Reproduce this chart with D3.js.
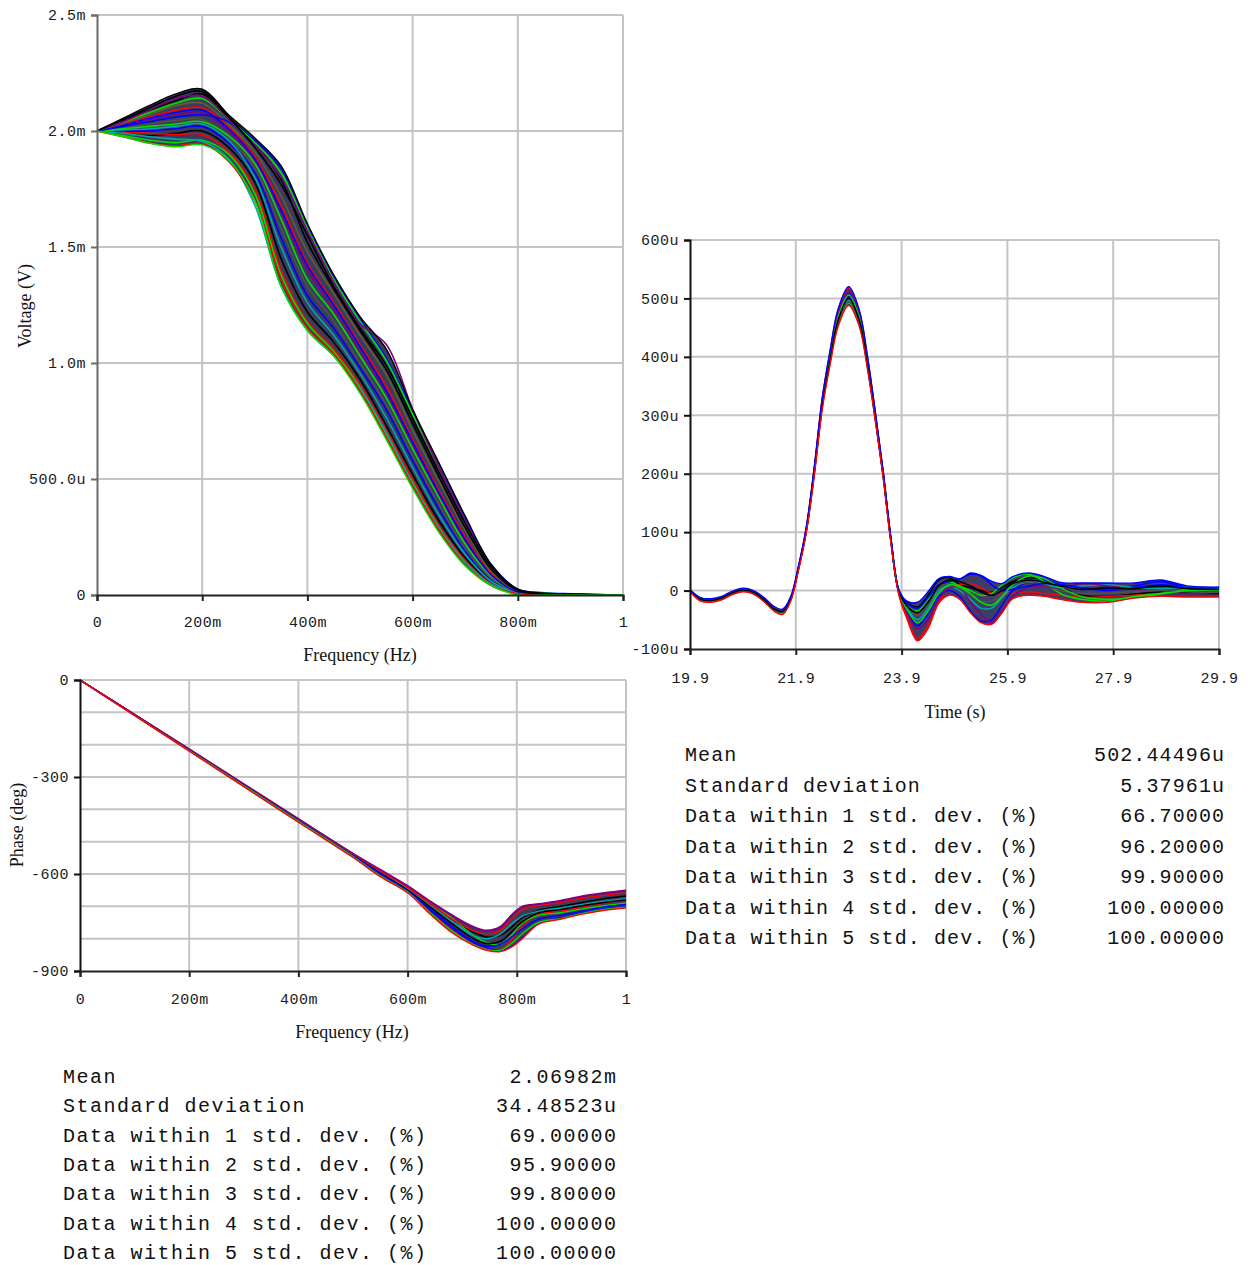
<!DOCTYPE html>
<html>
<head>
<meta charset="utf-8">
<script src="https://cdn.jsdelivr.net/npm/d3@7"></script>
<style>
  html, body { margin: 0; padding: 0; background: #fff; }
  svg { display: block; }
  .tick text { font-family: "Liberation Mono", "DejaVu Sans Mono", monospace; font-size: 15px; letter-spacing: 0.5px; fill: #1a1a1a; }
  .title { font-family: "Liberation Serif", "DejaVu Serif", serif; font-size: 18px; fill: #111; }
  .stat { font-family: "Liberation Mono", "DejaVu Sans Mono", monospace; font-size: 20px; fill: #111; }
</style>
</head>
<body>
<svg id="chart" width="1252" height="1265"></svg>
<script>
// ---------------- DATA ----------------
const freqTicks = [0, 0.2, 0.4, 0.6, 0.8, 1];
const freqLabels = ["0", "200m", "400m", "600m", "800m", "1"];

// Magnitude (mV) vs frequency
const magYTicks = [0, 0.5, 1.0, 1.5, 2.0, 2.5];
const magYLabels = ["0", "500.0u", "1.0m", "1.5m", "2.0m", "2.5m"];
const magFreq = [0, 0.05, 0.1, 0.15, 0.2, 0.25, 0.3, 0.35, 0.4, 0.45, 0.5, 0.55, 0.6, 0.65, 0.7, 0.75, 0.8, 0.85, 0.9, 0.95, 1.0];
const magUpper = [2.0, 2.055, 2.11, 2.16, 2.18, 2.07, 1.97, 1.85, 1.60, 1.38, 1.20, 1.06, 0.80, 0.57, 0.34, 0.13, 0.025, 0.008, 0.004, 0.002, 0.001];
const magLower = [2.0, 1.975, 1.947, 1.932, 1.94, 1.875, 1.70, 1.33, 1.14, 1.03, 0.87, 0.67, 0.46, 0.27, 0.125, 0.04, 0.0, 0, 0, 0, 0];
const magRun1 = [2.0, 2.05, 2.10, 2.15, 2.17, 2.06, 1.93, 1.77, 1.55, 1.33, 1.15, 0.99, 0.76, 0.53, 0.31, 0.12, 0.02, 0.005, 0.002, 0.001, 0];
const magRun2 = [2.0, 2.04, 2.09, 2.14, 2.15, 2.05, 1.94, 1.80, 1.57, 1.35, 1.17, 1.08, 0.80, 0.55, 0.32, 0.12, 0.02, 0.005, 0.002, 0.001, 0];
const magRun3 = [2.0, 2.02, 2.04, 2.06, 2.07, 2.04, 1.96, 1.84, 1.59, 1.37, 1.19, 1.02, 0.79, 0.56, 0.33, 0.13, 0.025, 0.01, 0.005, 0.002, 0];
const magRun4 = [2.0, 1.975, 1.948, 1.935, 1.945, 1.87, 1.70, 1.36, 1.15, 1.04, 0.88, 0.68, 0.47, 0.28, 0.13, 0.04, 0.005, 0, 0, 0, 0];
const magRun5 = [2.0, 1.99, 1.975, 1.965, 1.955, 1.88, 1.68, 1.33, 1.14, 1.03, 0.89, 0.70, 0.48, 0.29, 0.14, 0.045, 0.006, 0, 0, 0, 0];
const magRun6 = [2.0, 1.99, 1.98, 1.99, 2.0, 1.93, 1.78, 1.45, 1.22, 1.09, 0.93, 0.73, 0.52, 0.32, 0.16, 0.05, 0.008, 0.003, 0.001, 0, 0];
const magRun7 = [2.0, 2.01, 2.02, 2.03, 2.04, 1.98, 1.86, 1.62, 1.36, 1.21, 1.03, 0.85, 0.63, 0.42, 0.22, 0.08, 0.012, 0.006, 0.002, 0, 0];
const magRun8 = [2.0, 2.03, 2.06, 2.09, 2.10, 2.02, 1.89, 1.68, 1.43, 1.26, 1.08, 0.90, 0.67, 0.45, 0.25, 0.09, 0.015, 0.004, 0.001, 0, 0];
const magRun9 = [2.0, 2.0, 2.0, 2.01, 2.02, 1.95, 1.82, 1.54, 1.29, 1.15, 0.98, 0.80, 0.58, 0.37, 0.19, 0.065, 0.01, 0.002, 0, 0, 0];
const magRun10 = [2.0, 2.035, 2.07, 2.11, 2.12, 2.03, 1.91, 1.72, 1.48, 1.30, 1.12, 0.95, 0.71, 0.49, 0.28, 0.10, 0.018, 0.005, 0.002, 0, 0];
const magRun11 = [2.0, 2.04, 2.08, 2.12, 2.14, 2.05, 1.95, 1.82, 1.58, 1.36, 1.18, 1.01, 0.78, 0.55, 0.32, 0.12, 0.022, 0.008, 0.003, 0.001, 0];
const magRun12 = [2.0, 2.02, 2.05, 2.07, 2.08, 2.00, 1.87, 1.65, 1.40, 1.23, 1.05, 0.87, 0.65, 0.43, 0.23, 0.08, 0.012, 0.003, 0.001, 0, 0];
const magRun13 = [2.0, 1.995, 1.99, 1.985, 1.985, 1.91, 1.75, 1.40, 1.18, 1.06, 0.905, 0.71, 0.50, 0.30, 0.15, 0.048, 0.007, 0.002, 0, 0, 0];
const magRun14 = [2.0, 2.005, 2.01, 2.02, 2.03, 1.96, 1.80, 1.50, 1.26, 1.12, 0.955, 0.765, 0.55, 0.345, 0.175, 0.058, 0.009, 0.002, 0, 0, 0];
const magRun15 = [2.0, 2.015, 2.03, 2.045, 2.05, 1.97, 1.84, 1.58, 1.33, 1.18, 1.00, 0.82, 0.60, 0.39, 0.20, 0.07, 0.011, 0.003, 0.001, 0, 0];
const magRun16 = [2.0, 1.98, 1.96, 1.95, 1.96, 1.90, 1.73, 1.38, 1.17, 1.05, 0.895, 0.69, 0.485, 0.29, 0.14, 0.044, 0.006, 0.001, 0, 0, 0];
const magRun17 = [2.0, 2.045, 2.09, 2.13, 2.16, 2.06, 1.95, 1.79, 1.52, 1.32, 1.14, 0.97, 0.74, 0.51, 0.29, 0.11, 0.018, 0.005, 0.002, 0, 0];
const magRun18 = [2.0, 2.025, 2.055, 2.08, 2.09, 2.01, 1.88, 1.66, 1.42, 1.25, 1.07, 0.88, 0.66, 0.44, 0.24, 0.085, 0.013, 0.003, 0.001, 0, 0];

// Time response (uV) vs time
const timeTicks = [19.9, 21.9, 23.9, 25.9, 27.9, 29.9];
const timeLabels = ["19.9", "21.9", "23.9", "25.9", "27.9", "29.9"];
const timeYTicks = [-100, 0, 100, 200, 300, 400, 500, 600];
const timeYLabels = ["-100u", "0", "100u", "200u", "300u", "400u", "500u", "600u"];
const timeT = [19.9, 20.1, 20.3, 20.5, 20.7, 20.9, 21.1, 21.3, 21.5, 21.65, 21.8, 21.95, 22.1, 22.25, 22.4, 22.55, 22.7, 22.9, 23.1, 23.25, 23.4, 23.55, 23.7, 23.85, 24.0, 24.2, 24.4, 24.6, 24.8, 25.0, 25.2, 25.4, 25.6, 25.8, 26.0, 26.3, 26.6, 26.9, 27.3, 27.8, 28.3, 28.8, 29.3, 29.9];
const timeUpper = [2, -12, -14, -10, -1, 4, 0, -12, -28, -32, -11, 42, 110, 212, 330, 412, 482, 520, 480, 404, 308, 206, 90, 2, -18, -20, -2, 20, 24, 20, 30, 26, 16, 12, 24, 30, 24, 14, 13, 13, 13, 18, 8, 6];
const timeLower = [-2, -18, -20, -16, -7, -2, -6, -19, -36, -41, -19, 34, 100, 197, 310, 388, 452, 488, 452, 382, 292, 194, 80, -8, -48, -86, -65, -22, -8, -15, -38, -55, -58, -38, -14, -8, -10, -15, -20, -20, -13, -10, -11, -11];
const timeRunA = [0, -15, -17, -13, -4, 1, -3, -16, -32, -36, -15, 38, 105, 205, 320, 398, 466, 504, 466, 393, 301, 201, 86, -2, -20, -28, -8, 18, 22, 10, 5, 0, -3, 5, 15, 22, 18, 5, -8, -10, -6, -2, -4, -5];
const timeRunB = [0, -14, -16, -12, -3, 2, -2, -15, -31, -35, -14, 40, 108, 210, 328, 410, 480, 518, 478, 402, 306, 202, 84, -6, -45, -82, -60, -20, 5, 10, 12, 5, -5, -5, -5, -2, -5, -8, -12, -10, -8, -5, 0, 0];
const timeRunC = [0, -15, -18, -14, -5, 0, -4, -17, -33, -38, -16, 37, 104, 206, 322, 402, 470, 508, 470, 396, 303, 202, 85, -5, -35, -60, -40, -10, 0, -10, -35, -52, -50, -25, 0, 15, 18, 10, 5, 3, 8, 15, 5, 2];
const timeRunD = [0, -16, -18, -13, -4, 1, -3, -17, -34, -39, -17, 36, 102, 200, 314, 391, 456, 492, 456, 385, 295, 197, 84, -1, -25, -35, -15, 10, 15, 8, 0, -8, -5, 10, 22, 28, 15, -5, -15, -18, -10, -5, 2, 0];
const timeRunE = [0, -15, -17, -13, -4, 1, -3, -16, -32, -37, -15, 38, 104, 203, 317, 394, 460, 497, 461, 388, 297, 198, 84, -3, -30, -50, -30, 0, 8, 0, -15, -30, -30, -12, 5, 15, 12, 5, 8, 10, 5, 3, 6, 4];
const timeRunF = [0, -14, -16, -12, -3, 2, -2, -15, -31, -35, -14, 39, 107, 208, 326, 406, 474, 512, 474, 399, 305, 203, 86, -4, -38, -65, -50, -15, 5, 5, -20, -40, -55, -35, -10, 5, 8, 2, 12, 8, 2, 0, -5, -3];
const timeRunG = [0, -16, -18, -14, -5, 0, -4, -17, -33, -37, -16, 37, 103, 202, 315, 392, 458, 494, 458, 386, 296, 198, 84, -2, -28, -42, -25, 5, 12, 3, -8, -18, -18, -5, 8, 15, 10, 0, -5, -4, -2, 0, -2, -3];
const timeRunH = [0, -15, -17, -13, -4, 1, -3, -16, -32, -36, -15, 38, 105, 205, 320, 398, 465, 502, 465, 392, 300, 200, 86, -1, -22, -30, -12, 10, 15, 20, 28, 25, 10, 0, 2, 8, 12, 10, 5, 0, 5, 10, 5, 5];
const timeRunI = [0, -15, -17, -13, -4, 1, -3, -16, -32, -36, -15, 38, 105, 205, 321, 400, 468, 506, 468, 395, 302, 201, 85, -3, -32, -55, -35, -5, 10, 6, -5, -20, -25, -10, 10, 25, 20, 5, -10, -15, -12, -6, 0, 1];
const timeRunJ = [0, -15, -17, -13, -4, 1, -3, -16, -32, -36, -15, 38, 104, 204, 318, 396, 463, 500, 463, 390, 298, 199, 85, -2, -26, -38, -20, 8, 18, 15, 8, -2, -8, 0, 12, 18, 14, 8, 2, 5, 3, 8, 3, 2];

// Phase (deg) vs frequency
const phaseYTicks = [0, -300, -600, -900];
const phaseYLabels = ["0", "-300", "-600", "-900"];
const phaseGrid = [-100, -200, -300, -400, -500, -600, -700, -800];
const phaseFreq = [0, 0.1, 0.2, 0.3, 0.4, 0.5, 0.55, 0.6, 0.64, 0.68, 0.72, 0.745, 0.77, 0.79, 0.81, 0.84, 0.88, 0.92, 0.96, 1.0];
const phaseUpper = [0, -106, -213, -321, -429, -536, -586, -636, -682, -725, -762, -774, -762, -727, -700, -692, -682, -668, -658, -650];
const phaseLower = [0, -110, -220, -330, -440, -549, -608, -658, -722, -780, -820, -836, -840, -826, -800, -755, -740, -724, -712, -705];
const phaseRun1 = [0, -108, -216, -325, -433, -541, -595, -648, -692, -738, -780, -795, -790, -765, -735, -712, -700, -688, -676, -668];
const phaseRun2 = [0, -108, -217, -326, -436, -545, -604, -655, -715, -770, -815, -832, -835, -805, -760, -725, -715, -702, -690, -680];
const phaseRun3 = [0, -107, -214, -322, -430, -538, -588, -640, -688, -735, -790, -812, -818, -790, -752, -728, -720, -708, -698, -690];
const phaseRun4 = [0, -109, -218, -328, -438, -546, -600, -652, -710, -765, -812, -828, -838, -825, -798, -752, -735, -720, -708, -700];
const phaseRun5 = [0, -108, -216, -324, -432, -540, -592, -645, -695, -745, -790, -800, -785, -755, -730, -715, -705, -694, -684, -676];
const phaseRun6 = [0, -107, -215, -323, -431, -538, -590, -638, -685, -728, -765, -776, -765, -730, -702, -695, -684, -670, -660, -652];
const phaseRun7 = [0, -108, -216, -325, -434, -542, -597, -650, -700, -752, -800, -815, -808, -780, -748, -720, -710, -698, -688, -680];
const phaseRun8 = [0, -107, -215, -323, -431, -539, -591, -642, -690, -738, -775, -785, -775, -740, -710, -698, -688, -675, -666, -658];
const phaseRun9 = [0, -108, -217, -326, -435, -543, -598, -652, -706, -760, -808, -822, -818, -795, -770, -740, -728, -715, -702, -694];
const phaseRun10 = [0, -109, -218, -327, -437, -546, -606, -656, -718, -775, -818, -834, -836, -815, -785, -750, -738, -722, -710, -703];

// Statistics tables
const statLabels = ["Mean", "Standard deviation", "Data within 1 std. dev. (%)", "Data within 2 std. dev. (%)", "Data within 3 std. dev. (%)", "Data within 4 std. dev. (%)", "Data within 5 std. dev. (%)"];
const timeStatValues = ["502.44496u", "5.37961u", "66.70000", "96.20000", "99.90000", "100.00000", "100.00000"];
const magStatValues = ["2.06982m", "34.48523u", "69.00000", "95.90000", "99.80000", "100.00000", "100.00000"];

const runColors = ["#000000", "#ff0000", "#00e000", "#0000ff", "#00a8a8", "#800080", "#505050", "#00e000", "#ff0000", "#0000ff", "#606030", "#000000", "#00a8a8", "#ff0000", "#0000ff", "#00e000", "#800080", "#000000"];

// ---------------- DRAWING ----------------
const svg = d3.select("#chart");
const GRID = "#c4c4c4";

function drawPanel(cfg) {
  const g = svg.append("g");
  const x = d3.scaleLinear().domain(cfg.xDomain).range(cfg.xRange);
  const y = d3.scaleLinear().domain(cfg.yDomain).range(cfg.yRange);
  g.selectAll(".vg").data(cfg.xGrid).enter().append("line")
    .attr("x1", d => x(d)).attr("x2", d => x(d))
    .attr("y1", cfg.yRange[0]).attr("y2", cfg.yRange[1])
    .attr("stroke", GRID).attr("stroke-width", 2);
  g.selectAll(".hg").data(cfg.yGrid).enter().append("line")
    .attr("y1", d => y(d)).attr("y2", d => y(d))
    .attr("x1", cfg.xRange[0]).attr("x2", cfg.xRange[1])
    .attr("stroke", GRID).attr("stroke-width", 2);
  const xs = cfg.xs;
  const area = d3.area()
    .x((d, i) => x(xs[i]))
    .y0((d, i) => y(cfg.lower[i]))
    .y1((d, i) => y(cfg.upper[i]))
    .curve(d3.curveCatmullRom.alpha(0.5));
  g.append("path").datum(cfg.upper).attr("d", area)
    .attr("fill", cfg.bandFill).attr("stroke", "none");
  const line = d3.line()
    .x((d, i) => x(xs[i]))
    .y(d => y(d))
    .curve(d3.curveCatmullRom.alpha(0.5));
  cfg.runs.forEach((r, k) => {
    g.append("path").datum(r).attr("d", line)
      .attr("fill", "none").attr("stroke", cfg.colors[k % cfg.colors.length])
      .attr("stroke-width", cfg.lw);
  });
  g.append("path").datum(cfg.upper).attr("d", line).attr("fill", "none").attr("stroke", cfg.upperColor).attr("stroke-width", 1.4);
  g.append("path").datum(cfg.lower).attr("d", line).attr("fill", "none").attr("stroke", cfg.lowerColor).attr("stroke-width", 1.4);

  const yAxis = d3.axisLeft(y).tickValues(cfg.yTicks)
    .tickFormat((d, i) => cfg.yLabels[i]).tickSize(6).tickPadding(5);
  const ya = g.append("g").attr("transform", `translate(${cfg.xRange[0]},0)`).call(yAxis);
  ya.select(".domain").attr("stroke", cfg.yAxisColor).attr("stroke-width", 2);
  ya.selectAll(".tick line").attr("stroke", cfg.yAxisColor).attr("stroke-width", 2);
  const xAxis = d3.axisBottom(x).tickValues(cfg.xTicks)
    .tickFormat((d, i) => cfg.xLabels[i]).tickSize(6).tickPadding(cfg.xPad);
  const xa = g.append("g").attr("transform", `translate(0,${cfg.yRange[0]})`).call(xAxis);
  xa.select(".domain").attr("stroke", "#222").attr("stroke-width", 2);
  xa.selectAll(".tick line").attr("stroke", "#222").attr("stroke-width", 2);

  g.append("text").attr("class", "title").attr("text-anchor", "middle")
    .attr("x", cfg.xTitlePos[0]).attr("y", cfg.xTitlePos[1]).text(cfg.xTitle);
  if (cfg.yTitle) {
    g.append("text").attr("class", "title").attr("text-anchor", "middle")
      .attr("transform", `translate(${cfg.yTitlePos[0]},${cfg.yTitlePos[1]}) rotate(-90)`)
      .text(cfg.yTitle);
  }
}

// Magnitude panel
drawPanel({
  xDomain: [0, 1], xRange: [97, 623],
  yDomain: [0, 2.5], yRange: [595, 15],
  xGrid: freqTicks.slice(1), yGrid: magYTicks.slice(1),
  xs: magFreq, upper: magUpper, lower: magLower,
  runs: [magRun6, magRun13, magRun16, magRun9, magRun14, magRun12, magRun15, magRun7, magRun8, magRun18, magRun10, magRun17, magRun5, magRun4, magRun3, magRun11, magRun2, magRun1],
  colors: runColors,
  bandFill: "#3a3c5c", lw: 1.6, upperColor: "#000000", lowerColor: "#00e000",
  yTicks: magYTicks, yLabels: magYLabels, xTicks: freqTicks, xLabels: freqLabels, xPad: 15,
  yAxisColor: "#6a6a6a",
  xTitle: "Frequency (Hz)", xTitlePos: [360, 661],
  yTitle: "Voltage (V)", yTitlePos: [31, 306]
});

// Time panel
drawPanel({
  xDomain: [19.9, 29.9], xRange: [690, 1219],
  yDomain: [-100, 600], yRange: [649, 240],
  xGrid: timeTicks.slice(1), yGrid: timeYTicks.slice(1),
  xs: timeT, upper: timeUpper, lower: timeLower,
  runs: [timeRunA, timeRunB, timeRunC, timeRunD, timeRunE, timeRunF, timeRunG, timeRunH, timeRunI, timeRunJ],
  colors: ["#000000", "#ff0000", "#0000ff", "#00e000", "#00a8a8", "#800080", "#505050", "#0000ff", "#00e000", "#000000"],
  bandFill: "#3c3e66", lw: 1.5, upperColor: "#0000ff", lowerColor: "#ff0000",
  yTicks: timeYTicks, yLabels: timeYLabels, xTicks: timeTicks, xLabels: timeLabels, xPad: 17,
  yAxisColor: "#111",
  xTitle: "Time (s)", xTitlePos: [955, 718],
  yTitle: null
});

// Phase panel
drawPanel({
  xDomain: [0, 1], xRange: [80, 626],
  yDomain: [-900, 0], yRange: [971, 680],
  xGrid: freqTicks.slice(1), yGrid: phaseGrid.concat([0]),
  xs: phaseFreq, upper: phaseUpper, lower: phaseLower,
  runs: [phaseRun1, phaseRun2, phaseRun3, phaseRun4, phaseRun5, phaseRun6, phaseRun7, phaseRun8, phaseRun9, phaseRun10],
  colors: ["#000000", "#ff0000", "#00e000", "#0000ff", "#00a8a8", "#800080", "#000000", "#ff0000", "#0000ff", "#00e000"],
  bandFill: "#3a3c5e", lw: 1.4, upperColor: "#800080", lowerColor: "#ff0000",
  yTicks: phaseYTicks, yLabels: phaseYLabels, xTicks: freqTicks, xLabels: freqLabels, xPad: 16,
  yAxisColor: "#111",
  xTitle: "Frequency (Hz)", xTitlePos: [352, 1038],
  yTitle: "Phase (deg)", yTitlePos: [23, 825]
});

// Statistics tables
function drawStats(labels, values, xl, xr, y0, dy, ls) {
  const g = svg.append("g");
  g.selectAll(".sl").data(labels).enter().append("text")
    .attr("class", "stat").attr("x", xl).attr("y", (d, i) => y0 + i * dy)
    .style("letter-spacing", ls + "px").text(d => d);
  g.selectAll(".sv").data(values).enter().append("text")
    .attr("class", "stat").attr("x", xr + ls).attr("y", (d, i) => y0 + i * dy)
    .attr("text-anchor", "end").style("letter-spacing", ls + "px").text(d => d);
}
drawStats(statLabels, timeStatValues, 685, 1224, 761, 30.5, 1.1);
drawStats(statLabels, magStatValues, 63, 616, 1083, 29.3, 1.5);
</script>
</body>
</html>
